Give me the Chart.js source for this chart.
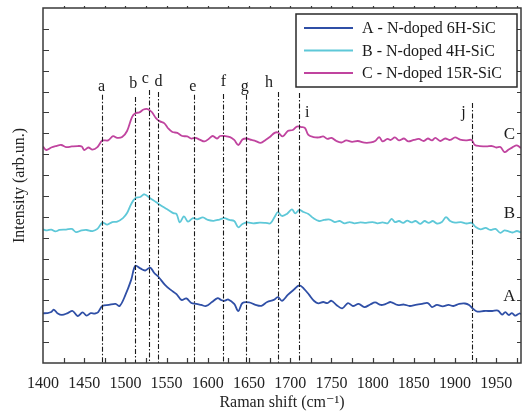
<!DOCTYPE html>
<html>
<head>
<meta charset="utf-8">
<script src="https://cdn.jsdelivr.net/npm/chart.js@4.4.1/dist/chart.umd.min.js"></script>
<style>
  html, body { margin: 0; padding: 0; background: #fff; }
  #wrap { width: 524px; height: 415px; }
</style>
</head>
<body>
<div id="wrap"><canvas id="ramanChart" width="524" height="415"></canvas></div>
<script>
// Raman spectra of N-doped SiC polytypes (vertically offset, arbitrary units)
const seriesLabels = ["A - N-doped 6H-SiC", "B - N-doped 4H-SiC", "C - N-doped 15R-SiC"];
const seriesLetters = ["A", "B", "C"];
const seriesColors = ["#2f4fa6", "#5ec8d8", "#c0449f"];

const shiftA = [1400, 1405, 1410, 1413, 1418, 1423, 1430, 1436, 1442, 1448, 1453, 1458, 1463, 1467,
  1472, 1480, 1488, 1493, 1500, 1507, 1512, 1518, 1524, 1530, 1535, 1540, 1548, 1555, 1562, 1568,
  1574, 1580, 1586, 1592, 1598, 1605, 1612, 1616, 1620, 1625, 1632, 1637, 1642, 1650, 1657, 1665,
  1672, 1680, 1685, 1690, 1697, 1704, 1711, 1717, 1723, 1729, 1734, 1740, 1745, 1750, 1756, 1763,
  1770, 1776, 1783, 1790, 1797, 1803, 1810, 1816, 1822, 1830, 1838, 1845, 1852, 1860, 1867, 1872,
  1878, 1885, 1892, 1898, 1905, 1912, 1917, 1922, 1927, 1935, 1945, 1952, 1957, 1961, 1965, 1969,
  1973, 1978, 1980];
const intensityA = [2.38, 2.39, 2.44, 2.56, 2.37, 2.30, 2.39, 2.49, 2.25, 2.42, 2.27, 2.39, 2.37, 2.44,
  2.73, 2.78, 2.83, 2.73, 3.26, 3.98, 4.65, 4.53, 4.43, 4.57, 4.31, 4.13, 3.74, 3.50, 3.30, 3.02,
  3.09, 2.87, 2.83, 2.78, 2.73, 2.92, 3.11, 3.02, 2.98, 3.04, 2.83, 2.49, 2.87, 2.90, 2.80, 2.74,
  2.92, 3.02, 3.15, 2.98, 3.26, 3.50, 3.72, 3.54, 3.26, 2.97, 2.86, 2.92, 2.87, 2.98, 2.78, 2.62,
  2.87, 2.73, 2.83, 2.68, 2.80, 2.90, 2.78, 2.83, 2.92, 2.78, 2.80, 2.73, 2.78, 2.83, 2.87, 2.68,
  2.78, 2.71, 2.78, 2.73, 2.83, 2.85, 2.78, 2.59, 2.46, 2.49, 2.49, 2.51, 2.32, 2.44, 2.30, 2.39,
  2.27, 2.37, 2.35];

const shiftB = [1400, 1405, 1410, 1415, 1420, 1428, 1435, 1440, 1447, 1453, 1460, 1466, 1472, 1478,
  1484, 1490, 1497, 1502, 1507, 1512, 1518, 1523, 1530, 1537, 1545, 1552, 1558, 1562, 1566, 1571,
  1576, 1582, 1587, 1594, 1600, 1607, 1614, 1620, 1626, 1632, 1637, 1642, 1648, 1655, 1663, 1670,
  1676, 1681, 1685, 1690, 1696, 1702, 1706, 1711, 1716, 1722, 1728, 1735, 1741, 1748, 1754, 1760,
  1766, 1772, 1778, 1785, 1792, 1800, 1806, 1812, 1818, 1823, 1827, 1832, 1837, 1842, 1847, 1852,
  1858, 1863, 1868, 1873, 1878, 1884, 1889, 1894, 1900, 1907, 1914, 1920, 1925, 1931, 1937, 1943,
  1949, 1955, 1960, 1965, 1970, 1975, 1980];
const intensityB = [6.40, 6.35, 6.39, 6.30, 6.37, 6.39, 6.42, 6.27, 6.35, 6.37, 6.32, 6.42, 6.72, 6.63,
  6.75, 6.77, 6.94, 7.18, 7.61, 7.89, 7.95, 8.08, 7.89, 7.71, 7.49, 7.33, 7.18, 7.14, 6.73, 7.02,
  6.77, 6.94, 6.88, 6.97, 6.85, 6.81, 6.87, 6.94, 6.85, 6.80, 6.50, 6.66, 6.73, 6.69, 6.72, 6.71,
  6.69, 6.99, 7.22, 7.04, 7.14, 7.36, 7.17, 7.33, 7.23, 7.14, 6.94, 6.80, 6.85, 6.87, 6.75, 6.80,
  6.69, 6.75, 6.69, 6.73, 6.71, 6.75, 6.69, 6.73, 6.69, 6.90, 6.75, 6.80, 6.71, 6.82, 6.73, 6.80,
  6.66, 6.80, 6.71, 6.80, 6.68, 6.75, 6.99, 6.80, 6.72, 6.75, 6.68, 6.71, 6.51, 6.40, 6.47, 6.37,
  6.42, 6.23, 6.35, 6.30, 6.25, 6.32, 6.25];

const shiftC = [1400, 1404, 1410, 1416, 1422, 1428, 1435, 1442, 1447, 1450, 1455, 1460, 1466, 1472,
  1479, 1485, 1490, 1496, 1502, 1508, 1512, 1517, 1522, 1527, 1532, 1537, 1542, 1547, 1552, 1557,
  1563, 1569, 1575, 1580, 1585, 1590, 1596, 1601, 1606, 1611, 1615, 1620, 1627, 1632, 1637, 1642,
  1647, 1653, 1658, 1664, 1670, 1676, 1681, 1685, 1691, 1697, 1703, 1708, 1714, 1718, 1722, 1728,
  1735, 1740, 1745, 1750, 1756, 1762, 1768, 1775, 1782, 1790, 1798, 1803, 1808, 1812, 1818, 1822,
  1827, 1832, 1838, 1843, 1850, 1856, 1862, 1867, 1872, 1876, 1882, 1888, 1894, 1900, 1906, 1913,
  1920, 1924, 1930, 1938, 1945, 1950, 1955, 1960, 1965, 1970, 1975, 1980];
const intensityC = [10.36, 10.20, 10.32, 10.39, 10.44, 10.34, 10.37, 10.39, 10.37, 10.20, 10.32, 10.22, 10.34, 10.65,
  10.66, 10.86, 10.78, 10.82, 11.11, 11.78, 11.96, 12.00, 12.14, 12.16, 12.02, 11.73, 11.57, 11.49, 11.23, 11.06,
  11.02, 10.87, 10.85, 10.75, 10.78, 10.70, 10.61, 10.73, 10.87, 10.75, 10.87, 10.87, 10.82, 10.68, 10.44, 10.70,
  10.75, 10.68, 10.63, 10.54, 10.68, 10.85, 11.02, 11.04, 10.85, 11.11, 11.16, 11.32, 11.30, 11.25, 10.92, 10.82,
  10.80, 10.85, 10.73, 10.78, 10.63, 10.56, 10.66, 10.59, 10.63, 10.55, 10.56, 10.63, 10.82, 10.61, 10.73, 10.68,
  10.80, 10.66, 10.75, 10.61, 10.68, 10.73, 10.63, 10.75, 10.66, 10.78, 10.63, 10.75, 10.68, 10.80, 10.70, 10.66,
  10.68, 10.44, 10.39, 10.37, 10.39, 10.32, 10.34, 10.10, 10.22, 10.34, 10.42, 10.29];

// marked band positions (cm-1)
const peakLetters = ["a", "b", "c", "d", "e", "f", "g", "h", "i", "j"];
const peakShifts = [1471, 1512, 1529, 1539, 1583, 1619, 1646, 1685, 1711, 1920];

const xTickValues = [1400, 1450, 1500, 1550, 1600, 1650, 1700, 1750, 1800, 1850, 1900, 1950];

const SERIF = "'Liberation Serif', 'DejaVu Serif', serif";

function toPoints(xs, ys) {
  return xs.map((x, i) => ({ x: x, y: ys[i] }));
}

// frame with inward ticks, band markers, curve letters and boxed legend
const decorPlugin = {
  id: "decor",
  afterDatasetsDraw(chart) {
    const ctx = chart.ctx;
    const xs = chart.scales.x;
    const ys = chart.scales.y;
    const area = chart.chartArea;

    // band marker lines: top level of each line and label baseline (in y units), label x nudge (px)
    const lineTops = [12.84, 12.74, 13.07, 12.98, 12.84, 12.88, 12.84, 12.98, 12.93, 12.45];
    const labelLevels = [13.04, 13.15, 13.39, 13.27, 13.04, 13.27, 13.04, 13.23, 11.77, 11.77];
    const labelNudge = [0, -2, -4, 1, -1, 0, -1, -9, 8, -8];

    ctx.save();
    ctx.strokeStyle = "#1a1a1a";
    ctx.lineWidth = 1.1;
    ctx.setLineDash([5, 2, 1.5, 2]);
    peakShifts.forEach((shift, i) => {
      const px = Math.round(xs.getPixelForValue(shift)) + 0.5;
      ctx.beginPath();
      ctx.moveTo(px, ys.getPixelForValue(lineTops[i]));
      ctx.lineTo(px, area.bottom);
      ctx.stroke();
    });
    ctx.setLineDash([]);

    ctx.fillStyle = "#1a1a1a";
    ctx.font = "16px " + SERIF;
    ctx.textAlign = "center";
    ctx.textBaseline = "alphabetic";
    peakLetters.forEach((letter, i) => {
      const px = xs.getPixelForValue(peakShifts[i]) + labelNudge[i];
      ctx.fillText(letter, px, ys.getPixelForValue(labelLevels[i]));
    });

    // series letters at the right end
    const letterLevels = [3.16, 7.18, 10.92];
    ctx.font = "17px " + SERIF;
    ctx.textBaseline = "middle";
    seriesLetters.forEach((letter, i) => {
      ctx.fillText(letter, xs.getPixelForValue(1966), ys.getPixelForValue(letterLevels[i]));
    });

    // frame
    ctx.strokeStyle = "#3a3a3a";
    ctx.lineWidth = 1.5;
    ctx.strokeRect(area.left, area.top, area.right - area.left, area.bottom - area.top);

    ctx.lineWidth = 1.2;
    ctx.beginPath();
    for (let v = 1425; v < 1980; v += 25) {
      const px = Math.round(xs.getPixelForValue(v)) + 0.5;
      ctx.moveTo(px, area.bottom);
      ctx.lineTo(px, area.bottom - 5);
      ctx.moveTo(px, area.top);
      ctx.lineTo(px, area.top - 2);
    }
    for (let v = 1; v < 17; v++) {
      const py = Math.round(ys.getPixelForValue(v)) + 0.5;
      ctx.moveTo(area.left, py);
      ctx.lineTo(area.left + 6, py);
      ctx.moveTo(area.right, py);
      ctx.lineTo(area.right - 4, py);
    }
    ctx.stroke();

    // legend box
    const box = { x: 296, y: 14, w: 221, h: 73 };
    ctx.fillStyle = "#ffffff";
    ctx.fillRect(box.x, box.y, box.w, box.h);
    ctx.strokeStyle = "#2a2a2a";
    ctx.lineWidth = 1.5;
    ctx.strokeRect(box.x, box.y, box.w, box.h);

    ctx.font = "16px " + SERIF;
    ctx.textAlign = "left";
    ctx.textBaseline = "middle";
    chart.data.datasets.forEach((ds, i) => {
      const rowY = box.y + 14 + i * 22.5;
      ctx.strokeStyle = ds.borderColor;
      ctx.lineWidth = 2;
      ctx.beginPath();
      ctx.moveTo(box.x + 8, rowY);
      ctx.lineTo(box.x + 57, rowY);
      ctx.stroke();
      ctx.fillStyle = "#1a1a1a";
      ctx.fillText(ds.label, box.x + 66, rowY + 1);
    });
    ctx.restore();
  },
};

const canvas = document.getElementById("ramanChart");

new Chart(canvas, {
  type: "line",
  data: {
    datasets: [
      { label: seriesLabels[0], data: toPoints(shiftA, intensityA), borderColor: seriesColors[0] },
      { label: seriesLabels[1], data: toPoints(shiftB, intensityB), borderColor: seriesColors[1] },
      { label: seriesLabels[2], data: toPoints(shiftC, intensityC), borderColor: seriesColors[2] },
    ].map((ds) => Object.assign(ds, { borderWidth: 1.8, pointRadius: 0, tension: 0.35, fill: false })),
  },
  options: {
    responsive: false,
    animation: false,
    layout: { padding: { top: 8, right: 3, left: 0, bottom: 0 } },
    plugins: {
      legend: { display: false },
      tooltip: { enabled: false },
    },
    scales: {
      x: {
        type: "linear",
        min: 1400,
        max: 1980,
        afterFit: (scale) => { scale.height = 52; },
        afterBuildTicks: (scale) => { scale.ticks = xTickValues.map((v) => ({ value: v })); },
        grid: { display: false, drawTicks: false },
        border: { display: false },
        ticks: {
          color: "#222",
          padding: 11,
          maxRotation: 0,
          font: { family: SERIF, size: 16 },
          callback: (value) => String(value),
        },
        title: {
          display: true,
          text: "Raman shift (cm\u207B\u00B9)",
          color: "#222",
          padding: { top: 0, bottom: 3 },
          font: { family: SERIF, size: 16 },
        },
      },
      y: {
        type: "linear",
        min: 0,
        max: 17,
        afterFit: (scale) => { scale.width = 43; },
        grid: { display: false, drawTicks: false },
        border: { display: false },
        ticks: { display: false },
        title: {
          display: true,
          text: "Intensity (arb.un.)",
          color: "#222",
          padding: { top: 10, bottom: 0 },
          font: { family: SERIF, size: 16 },
        },
      },
    },
  },
  plugins: [decorPlugin],
});
</script>
</body>
</html>
